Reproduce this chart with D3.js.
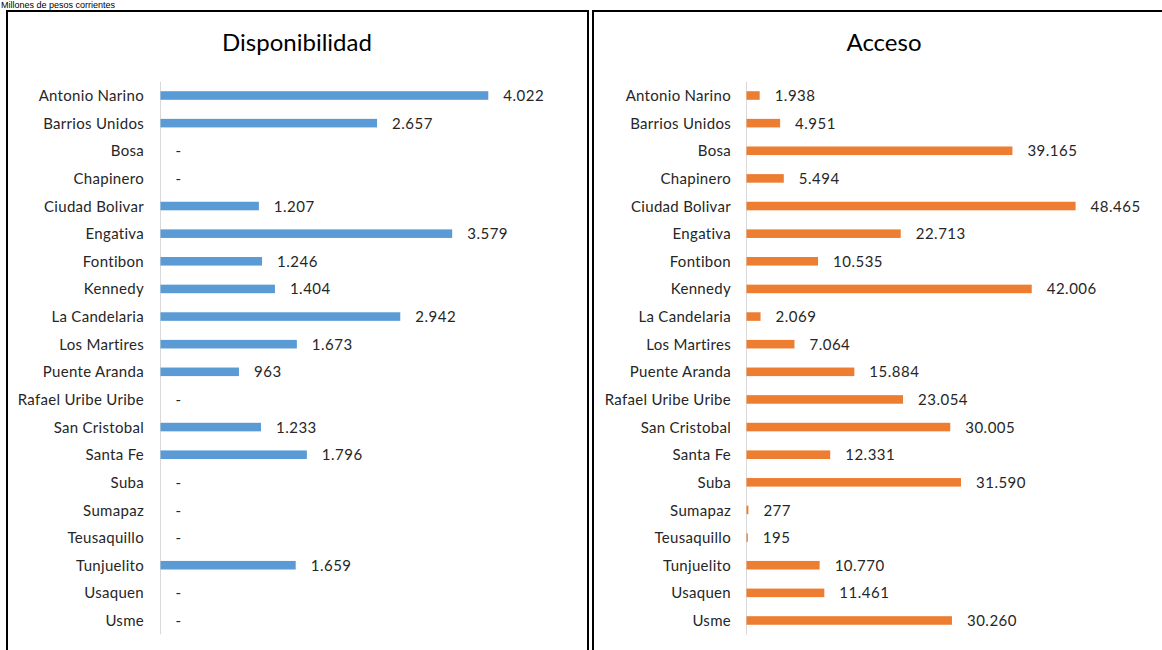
<!DOCTYPE html>
<html>
<head>
<meta charset="utf-8">
<script src="https://d3js.org/d3.v7.min.js"></script>
<style>
  body { margin: 0; background: #fff; }
  svg { display: block; }
  .cat { font-family: Lato, "Open Sans", sans-serif; font-size: 15px; letter-spacing: 0.3px; fill: #262626; }
  .val { font-family: Lato, "Open Sans", sans-serif; font-size: 15px; letter-spacing: 0.5px; fill: #262626; }
  .title { font-family: Lato, "Open Sans", sans-serif; font-size: 24px; fill: #000; }
</style>
</head>
<body>
<svg width="1162" height="650"></svg>
<script>
var localidades = ["Antonio Narino", "Barrios Unidos", "Bosa", "Chapinero", "Ciudad Bolivar",
  "Engativa", "Fontibon", "Kennedy", "La Candelaria", "Los Martires", "Puente Aranda",
  "Rafael Uribe Uribe", "San Cristobal", "Santa Fe", "Suba", "Sumapaz", "Teusaquillo",
  "Tunjuelito", "Usaquen", "Usme"];

var disponibilidad = [4022, 2657, 0, 0, 1207, 3579, 1246, 1404, 2942, 1673, 963, 0,
  1233, 1796, 0, 0, 0, 1659, 0, 0];

var acceso = [1938, 4951, 39165, 5494, 48465, 22713, 10535, 42006, 2069, 7064, 15884,
  23054, 30005, 12331, 31590, 277, 195, 10770, 11461, 30260];

var svg = d3.select("svg");

var es = d3.formatLocale({decimal: ",", thousands: ".", grouping: [3], currency: ["$", ""]});
var fmt = es.format(",d");

// nota superior (en el original queda pegada al borde de arriba)
svg.append("text")
    .attr("x", 1).attr("y", 8)
    .style("font-family", "Liberation Sans, Arial, sans-serif")
    .style("font-size", "9px")
    .text("Millones de pesos corrientes");

var y = d3.scaleBand()
    .domain(localidades)
    .range([81.7, 634.3])
    .paddingInner(0.69)
    .paddingOuter(0.345);

function panel(opts) {
  var g = svg.append("g");

  g.append("rect")
      .attr("x", opts.box[0]).attr("y", 11)
      .attr("width", opts.box[1]).attr("height", 700)
      .attr("fill", "none").attr("stroke", "#000").attr("stroke-width", 2);

  g.append("text")
      .attr("class", "title")
      .attr("x", opts.titleX).attr("y", 51)
      .attr("text-anchor", "middle")
      .text(opts.title);

  var x = d3.scaleLinear().domain(opts.domain).range(opts.range);

  g.append("line")
      .attr("x1", x(0)).attr("x2", x(0))
      .attr("y1", y.range()[0]).attr("y2", y.range()[1])
      .attr("stroke", "#d9d9d9").attr("stroke-width", 1);

  g.selectAll(".cat")
    .data(localidades)
    .enter().append("text")
      .attr("class", "cat")
      .attr("x", opts.labelX)
      .attr("y", function(d) { return y(d) + y.bandwidth() / 2; })
      .attr("dy", "0.37em")
      .attr("text-anchor", "end")
      .text(function(d) { return d; });

  var rows = localidades.map(function(d, i) { return {name: d, v: opts.values[i]}; });

  g.selectAll(".bar")
    .data(rows.filter(function(d) { return d.v > 0; }))
    .enter().append("rect")
      .attr("class", "bar")
      .attr("x", x(0))
      .attr("y", function(d) { return y(d.name); })
      .attr("width", function(d) { return x(d.v) - x(0); })
      .attr("height", y.bandwidth())
      .attr("fill", opts.color);

  g.selectAll(".val")
    .data(rows)
    .enter().append("text")
      .attr("class", "val")
      .attr("x", function(d) { return x(d.v) + 15; })
      .attr("y", function(d) { return y(d.name) + y.bandwidth() / 2; })
      .attr("dy", "0.37em")
      .text(function(d) { return d.v > 0 ? fmt(d.v) : "-"; });
}

panel({
  box: [7, 581], title: "Disponibilidad", titleX: 297,
  domain: [0, 5000], range: [160.5, 568], labelX: 144,
  values: disponibilidad, color: "#5b9bd5"
});

panel({
  box: [593, 620], title: "Acceso", titleX: 884,
  domain: [0, 60000], range: [746.5, 1153.9], labelX: 731,
  values: acceso, color: "#ed7d31"
});
</script>
</body>
</html>
